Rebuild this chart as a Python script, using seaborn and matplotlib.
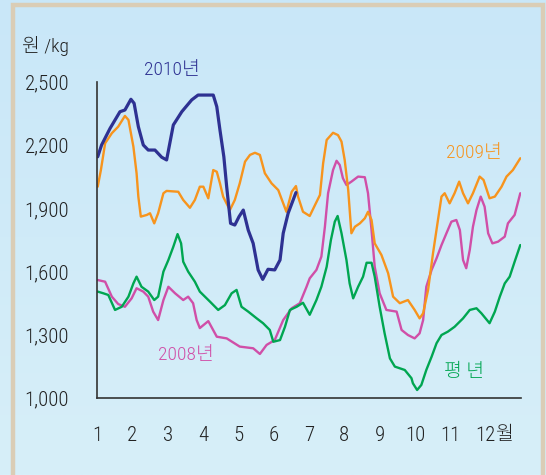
import numpy as np
import pandas as pd
import matplotlib
matplotlib.use("Agg")
import matplotlib.pyplot as plt
import matplotlib.patches as mpatches
from matplotlib.colors import LinearSegmentedColormap
import seaborn as sns

# x = month position (1 = start of Jan, 13 = end of Dec), y = price (원/kg)
m2010 = [1.02, 1.13, 1.37, 1.65, 1.79, 1.96, 2.05, 2.17, 2.31, 2.45, 2.64, 2.83, 2.97,
         3.16, 3.40, 3.68, 3.86, 4.05, 4.29, 4.39, 4.48, 4.59, 4.67, 4.78, 4.90, 5.02,
         5.14, 5.28, 5.42, 5.56, 5.69, 5.84, 6.03, 6.18, 6.27, 6.41, 6.63]
v2010 = [2145, 2201, 2280, 2359, 2367, 2418, 2399, 2288, 2201, 2177, 2177, 2143, 2130,
         2296, 2359, 2415, 2438, 2438, 2438, 2383, 2272, 2145, 2003, 1829, 1821, 1861,
         1892, 1797, 1734, 1608, 1563, 1611, 1608, 1655, 1782, 1877, 1975]

m2009 = [1.02, 1.11, 1.23, 1.42, 1.60, 1.79, 1.89, 2.03, 2.12, 2.17, 2.24, 2.41, 2.50,
         2.62, 2.73, 2.88, 2.97, 3.30, 3.44, 3.63, 3.77, 3.91, 4.01, 4.15, 4.29, 4.39,
         4.48, 4.57, 4.76, 4.90, 5.04, 5.19, 5.33, 5.47, 5.61, 5.75, 5.94, 6.13, 6.36,
         6.51, 6.63, 6.69, 6.83, 7.02, 7.17, 7.31, 7.40, 7.50, 7.68, 7.82, 7.92, 8.01,
         8.11, 8.20, 8.30, 8.44, 8.58, 8.67, 8.77, 8.86, 9.05, 9.24, 9.38, 9.57, 9.80,
         9.99, 10.13, 10.23, 10.37, 10.51, 10.65, 10.75, 10.84, 10.98, 11.12, 11.25,
         11.36, 11.50, 11.64, 11.83, 11.94, 12.11, 12.26, 12.45, 12.59, 12.77, 12.98]
v2009 = [2003, 2082, 2209, 2257, 2288, 2339, 2320, 2193, 2067, 1956, 1861, 1869, 1877,
         1829, 1877, 1972, 1983, 1979, 1940, 1903, 1940, 2003, 2003, 1948, 2082, 2074,
         2019, 1956, 1892, 1940, 2019, 2122, 2154, 2164, 2154, 2067, 2019, 1987, 1884,
         1979, 2006, 1956, 1884, 1864, 1916, 1964, 2114, 2225, 2259, 2248, 2217, 2130,
         1987, 1782, 1813, 1829, 1853, 1884, 1845, 1734, 1679, 1592, 1481, 1450, 1465,
         1418, 1378, 1402, 1513, 1687, 1845, 1956, 1972, 1924, 1972, 2027,
         1972, 1924, 1972, 2051, 2035, 1948, 1956, 2003, 2051, 2082, 2138]

m2008 = [1.02, 1.23, 1.42, 1.60, 1.79, 1.98, 2.12, 2.31, 2.45, 2.59, 2.73, 2.88, 3.02,
         3.21, 3.44, 3.58, 3.72, 3.82, 3.91, 4.15, 4.39, 4.67, 5.04, 5.42, 5.61, 5.80,
         6.03, 6.27, 6.51, 6.74, 6.93, 7.02, 7.21, 7.35, 7.45, 7.54, 7.68, 7.78, 7.87,
         7.96, 8.06, 8.20, 8.39, 8.58, 8.67, 8.77, 8.86, 9.00, 9.19, 9.48, 9.62, 9.80,
         9.99, 10.13, 10.23, 10.32, 10.47, 10.61, 10.75, 10.89, 11.03, 11.17, 11.27,
         11.36, 11.45, 11.55, 11.64, 11.74, 11.86, 11.97, 12.07, 12.19, 12.35, 12.54,
         12.63, 12.82, 12.98]
v2008 = [1560, 1552, 1481, 1446, 1433, 1473, 1521, 1505, 1481, 1410, 1370, 1465, 1528,
         1497, 1465, 1481, 1450, 1370, 1332, 1365, 1291, 1283, 1244, 1236, 1209, 1252,
         1275, 1370, 1426, 1450, 1528, 1568, 1608, 1671, 1813, 1972, 2082, 2126, 2106,
         2043, 2011, 2027, 2051, 2048, 1972, 1797, 1623, 1497, 1418, 1410, 1323, 1299,
         1283, 1307, 1370, 1528, 1608, 1663, 1726, 1782, 1837, 1845, 1797,
         1655, 1616, 1703, 1813, 1892, 1956, 1908, 1782, 1734, 1742, 1766,
         1829, 1869, 1972]

m_avg = [1.02, 1.18, 1.32, 1.51, 1.70, 1.89, 2.03, 2.12, 2.26, 2.45, 2.62, 2.73, 2.88,
         3.02, 3.16, 3.28, 3.38, 3.44, 3.58, 3.77, 3.91, 4.20, 4.43, 4.62, 4.81, 4.95,
         5.09, 5.28, 5.52, 5.70, 5.89, 5.99, 6.18, 6.32, 6.46, 6.65, 6.83, 7.02, 7.21,
         7.35, 7.50, 7.62, 7.73, 7.81, 7.92, 8.06, 8.15, 8.25, 8.39, 8.53, 8.63, 8.77,
         8.86, 9.00, 9.14, 9.29, 9.43, 9.71, 9.90, 9.94, 10.06, 10.18, 10.32, 10.47,
         10.61, 10.75, 10.93, 11.12, 11.36, 11.55, 11.74, 11.88, 12.11, 12.26, 12.40,
         12.54, 12.68, 12.82, 12.98]
v_avg = [1505, 1497, 1489, 1418, 1433, 1481, 1544, 1576, 1528, 1505, 1465, 1481, 1600,
         1655, 1718, 1778, 1734, 1647, 1600, 1552, 1505, 1457, 1418, 1441, 1497, 1513,
         1433, 1410, 1378, 1355, 1323, 1267, 1275, 1338, 1418, 1433, 1452, 1395, 1465,
         1528, 1623, 1750, 1837, 1864, 1782, 1655, 1544, 1473, 1528, 1576, 1642, 1642,
         1576, 1433, 1307, 1188, 1149, 1133, 1094, 1070, 1038, 1062, 1133, 1196,
         1260, 1299, 1315, 1338, 1378, 1418, 1426, 1402, 1355, 1410, 1481,
         1544, 1576, 1647, 1726]

month_ticks = [1, 2, 3, 4, 5, 6, 7, 8, 9, 10, 11, 12]
month_labels = ["1", "2", "3", "4", "5", "6", "7", "8", "9", "10", "11", "12"]
price_ticks = [1000, 1300, 1600, 1900, 2200, 2500]
price_labels = ["1,000", "1,300", "1,600", "1,900", "2,200", "2,500"]

sns.set_theme(style="white")
num_font = ['Roboto Condensed', 'Noto Sans CJK JP', 'DejaVu Sans']
plt.rcParams['font.family'] = num_font
plt.rcParams['font.weight'] = 300

W, H = 546, 475
fig = plt.figure(figsize=(W / 100, H / 100), dpi=100)

# light blue gradient background
bg = fig.add_axes([0, 0, 1, 1], zorder=-2)
grad = np.linspace(0, 1, 256).reshape(-1, 1)
bg_cmap = LinearSegmentedColormap.from_list("bg", ["#C9E7F8", "#D7EFF9"])
bg.imshow(grad, aspect="auto", cmap=bg_cmap, extent=[0, 1, 0, 1], origin="upper")
bg.axis("off")

# beige frame
fig.patches.append(mpatches.Rectangle((13 / W, -0.1), (543 - 13) / W, (H - 5) / H + 0.1,
                                      transform=fig.transFigure, fill=False,
                                      ec="#DACDB6", lw=3.2, zorder=-1))

ax = fig.add_axes([97 / W, 77 / H, 424 / W, 316 / H])
ax.set_facecolor("none")

sns.lineplot(x=m2008, y=v2008, ax=ax, color="#D04FA8", lw=1.7, estimator=None)
sns.lineplot(x=m_avg, y=v_avg, ax=ax, color="#00A651", lw=1.7, estimator=None)
sns.lineplot(x=m2009, y=v2009, ax=ax, color="#F7941D", lw=1.7, estimator=None)
sns.lineplot(x=m2010, y=v2010, ax=ax, color="#2E3192", lw=2.3, estimator=None)

ax.set_xlim(1, 13)
ax.set_ylim(1000, 2500)
ax.set_xticks(month_ticks)
ax.set_xticklabels(month_labels, fontweight=300)
ax.set_yticks(price_ticks)
ax.set_yticklabels(price_labels, fontweight=300)

for side in ["top", "right"]:
    ax.spines[side].set_visible(False)
for side in ["left", "bottom"]:
    ax.spines[side].set_color("#333333")
    ax.spines[side].set_linewidth(1.2)

ax.tick_params(axis="both", direction="in", length=5, width=1.1, color="#333333",
               labelsize=15, labelcolor="#222222")
ax.tick_params(axis="x", pad=20)
ax.tick_params(axis="y", pad=20)
ax.set_xlabel("")
ax.set_ylabel("")

# '월' after the 12 tick label
ax.text(12.27, -0.117, "월", transform=ax.get_xaxis_transform(), ha="left",
        va="center", fontsize=14, color="#222222", family=num_font, fontweight=300)

# unit label
fig.text(22 / W, 1 - 46 / H, "원 /kg", ha="left", va="center", fontsize=14,
         color="#222222", family=num_font, fontweight=300)

# series labels
labels_kw = dict(fontsize=14, ha="center", va="center", family=num_font,
                 fontweight=300)
ax.text(3.12, 2557, "2010년", color="#2E3192", clip_on=False, **labels_kw)
ax.text(11.66, 2163, "2009년", color="#F7941D", **labels_kw)
ax.text(3.52, 1204, "2008년", color="#D04FA8", **labels_kw)
ax.text(11.38, 1123, "평 년", color="#00A651", **labels_kw)

fig.savefig("out.png", dpi=100)
